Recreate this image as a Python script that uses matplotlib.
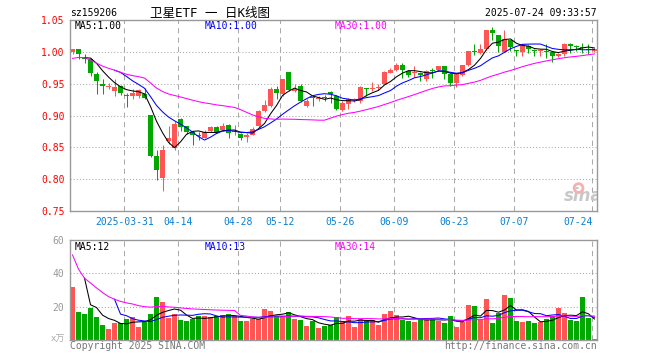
import matplotlib
matplotlib.use('Agg')
import matplotlib.pyplot as plt
import numpy as np
import pandas as pd

plt.rcParams['font.family'] = ['DejaVu Sans Mono', 'Noto Sans CJK SC']

# ---------------- data ----------------
open_ = [1.000, 1.004, 0.991, 0.989, 0.965, 0.950, 0.945, 0.939, 0.946, 0.932,
         0.931, 0.931, 0.933, 0.900, 0.836, 0.802, 0.860, 0.849, 0.895, 0.883,
         0.874, 0.870, 0.865, 0.875, 0.882, 0.877, 0.885, 0.874, 0.871, 0.867,
         0.870, 0.883, 0.907, 0.915, 0.942, 0.933, 0.968, 0.939, 0.947, 0.915,
         0.928, 0.926, 0.929, 0.937, 0.931, 0.908, 0.918, 0.924, 0.923, 0.943,
         0.941, 0.943, 0.950, 0.967, 0.971, 0.980, 0.970, 0.966, 0.966, 0.958,
         0.972, 0.971, 0.977, 0.965, 0.951, 0.963, 0.979, 1.001, 0.998, 1.004,
         1.035, 1.027, 1.000, 1.018, 1.002, 1.000, 1.009, 1.002, 1.002, 1.002,
         0.999, 0.993, 0.996, 1.013, 1.008, 1.007, 1.004, 1.001]
high = [1.005, 1.004, 0.996, 0.990, 0.968, 0.958, 0.951, 0.957, 0.948, 0.936,
        0.941, 0.941, 0.943, 0.901, 0.846, 0.853, 0.883, 0.892, 0.896, 0.884,
        0.876, 0.874, 0.878, 0.883, 0.883, 0.888, 0.887, 0.885, 0.873, 0.872,
        0.882, 0.909, 0.925, 0.944, 0.946, 0.958, 0.968, 0.949, 0.949, 0.926,
        0.932, 0.931, 0.932, 0.939, 0.932, 0.923, 0.928, 0.927, 0.946, 0.943,
        0.953, 0.950, 0.970, 0.975, 0.982, 0.982, 0.971, 0.978, 0.968, 0.971,
        0.975, 0.978, 0.978, 0.967, 0.967, 0.980, 1.002, 1.013, 1.012, 1.035,
        1.039, 1.027, 1.035, 1.019, 1.003, 1.013, 1.011, 1.005, 1.005, 1.012,
        1.001, 0.998, 1.014, 1.014, 1.010, 1.014, 1.013, 1.005]
low = [0.996, 0.988, 0.982, 0.962, 0.933, 0.934, 0.941, 0.930, 0.932, 0.914,
       0.926, 0.928, 0.926, 0.835, 0.799, 0.782, 0.856, 0.846, 0.876, 0.871,
       0.853, 0.861, 0.864, 0.874, 0.872, 0.875, 0.864, 0.869, 0.862, 0.858,
       0.869, 0.881, 0.906, 0.914, 0.926, 0.931, 0.938, 0.937, 0.921, 0.914,
       0.915, 0.923, 0.923, 0.920, 0.909, 0.907, 0.910, 0.921, 0.920, 0.931,
       0.939, 0.940, 0.949, 0.966, 0.970, 0.959, 0.961, 0.961, 0.954, 0.954,
       0.959, 0.970, 0.958, 0.947, 0.944, 0.962, 0.978, 0.995, 0.997, 1.003,
       1.018, 0.999, 0.999, 1.001, 0.993, 0.993, 0.998, 0.993, 0.994, 0.991,
       0.984, 0.992, 0.994, 0.998, 1.001, 0.998, 0.996, 1.000]
close = [1.004, 0.996, 0.989, 0.967, 0.954, 0.946, 0.946, 0.945, 0.935, 0.931,
         0.936, 0.940, 0.928, 0.836, 0.815, 0.846, 0.864, 0.886, 0.882, 0.874,
         0.869, 0.868, 0.874, 0.882, 0.873, 0.883, 0.873, 0.875, 0.865, 0.870,
         0.879, 0.907, 0.916, 0.941, 0.935, 0.958, 0.940, 0.941, 0.923, 0.923,
         0.927, 0.927, 0.927, 0.933, 0.910, 0.920, 0.926, 0.925, 0.944, 0.942,
         0.942, 0.944, 0.968, 0.971, 0.979, 0.971, 0.963, 0.968, 0.964, 0.970,
         0.970, 0.977, 0.965, 0.951, 0.965, 0.979, 1.001, 0.999, 1.004, 1.035,
         1.029, 1.009, 1.020, 1.008, 1.001, 1.012, 1.004, 1.001, 1.003, 1.000,
         0.994, 0.996, 1.013, 1.009, 1.007, 1.006, 1.003, 1.005]
volume = [31.8, 16.8, 15.6, 19.4, 13.8, 9.0, 6.6, 10.2, 10.0, 12.6,
          13.8, 7.8, 11.0, 15.6, 25.8, 22.8, 13.2, 15.6, 12.0, 11.4,
          12.6, 14.4, 14.4, 13.8, 14.4, 15.0, 15.6, 14.4, 11.4, 11.4,
          12.6, 12.6, 18.6, 17.4, 14.4, 14.4, 16.8, 12.6, 12.0, 8.4,
          11.4, 7.2, 8.4, 9.0, 13.8, 11.4, 14.4, 7.8, 12.6, 12.0,
          12.0, 9.0, 15.6, 17.4, 15.0, 12.0, 11.4, 10.8, 12.6, 13.2,
          12.6, 11.4, 10.2, 14.4, 7.8, 10.8, 21.0, 20.4, 12.0, 24.6,
          10.2, 16.2, 27.0, 25.2, 11.4, 10.8, 11.4, 10.2, 10.8, 12.6,
          14.4, 19.2, 16.2, 12.0, 11.4, 25.8, 13.2, 0.6]
# two trading days before the window (used only to warm up the moving averages)
prior_close = [0.970, 0.995]
prior_volume = [99.4, 22.0]

tick_labels = ['2025-03-31', '04-14', '04-28', '05-12', '05-26',
               '06-09', '06-23', '07-07', '07-24']
tick_index = [9, 18, 28, 35, 45, 54, 64, 74, 87]

price_ma_labels = ['MA5:1.00', 'MA10:1.00', 'MA30:1.00']
vol_ma_labels = ['MA5:12', 'MA10:13', 'MA30:14']
title = '卫星ETF 一 日K线图'
code = 'sz159206'
stamp = '2025-07-24 09:33:57'

# ---------------- styling ----------------
RED = '#FF5555'
GREEN = '#00A800'
MA_COLORS = ['#000000', '#0000FF', '#FF00FF']
FRAME = '#999999'
GRID = '#AAAAAA'
LW = 0.75

W, H = 660, 360
fig = plt.figure(figsize=(W / 100, H / 100), dpi=100)
fig.patch.set_facecolor('white')


def fx(px):
    return px / W


def fy(py):
    return 1 - py / H


ax = fig.add_axes([fx(70), fy(211), 527 / W, 191 / H])
axv = fig.add_axes([fx(70), fy(340), 527 / W, 100 / H])

o = np.array(open_)
h = np.array(high)
l = np.array(low)
c = np.array(close)
v = np.array(volume)
n = len(c)
x = np.arange(n)
cols = [RED if cc >= oo else GREEN for oo, cc in zip(o, c)]

# moving averages
full_c = pd.Series(np.concatenate([prior_close, c]))
full_v = pd.Series(np.concatenate([prior_volume, v]))
k = len(prior_close)
pma = [full_c.rolling(5).mean().values[k:],
       full_c.rolling(10).mean().values[k:],
       full_c.rolling(30, min_periods=1).mean().values[k:]]
vma = [full_v.rolling(5).mean().values[k:],
       full_v.rolling(10).mean().values[k:],
       full_v.rolling(30, min_periods=1).mean().values[k:]]

# candles
ax.vlines(x, l, h, colors=cols, linewidth=LW, zorder=2)
body = np.maximum(np.abs(c - o), 0.0016)
ax.bar(x, body, bottom=np.minimum(o, c), width=0.82, color=cols,
       linewidth=0, zorder=2)
for ma, col in zip(pma, MA_COLORS):
    ax.plot(x, ma, color=col, linewidth=LW, zorder=3)

# volume
axv.bar(x, v, width=0.82, color=cols, linewidth=0, zorder=2)
for ma, col in zip(vma, MA_COLORS):
    axv.plot(x, ma, color=col, linewidth=LW, zorder=3)

grid_pos = [t - 0.35 for t in tick_index]
for a in (ax, axv):
    a.set_xlim(-0.42, n - 1 + 0.42)
    for s in a.spines.values():
        s.set_color(FRAME)
        s.set_linewidth(1)
    a.set_axisbelow(True)
    a.set_facecolor('white')
    for gp in grid_pos:
        a.axvline(gp, color=GRID, linewidth=LW, linestyle=(0, (5, 4)),
                  zorder=0)

ax.set_ylim(0.75, 1.05)
axv.set_ylim(0, 60)
for yv in [0.80, 0.85, 0.90, 0.95, 1.00]:
    ax.axhline(yv, color=GRID, linewidth=LW, linestyle=(0, (1, 2)), zorder=0)
for yv in [20, 40]:
    axv.axhline(yv, color=GRID, linewidth=LW, linestyle=(0, (1, 2)), zorder=0)

yt = [0.75, 0.80, 0.85, 0.90, 0.95, 1.00, 1.05]
ax.set_yticks(yt, labels=['%.2f' % t for t in yt])
ax.tick_params(axis='y', length=0, pad=4, labelcolor='#FF0000', labelsize=7)
ax.set_xticks(grid_pos, labels=tick_labels)
ax.tick_params(axis='x', length=0, pad=4, labelcolor='#0A7FD0', labelsize=7)
ax.get_xticklabels()[-1].set_horizontalalignment('right')

axv.set_yticks([20, 40, 60], labels=['20', '40', '60'])
axv.tick_params(axis='y', length=0, pad=4, labelcolor='#999999', labelsize=7)
axv.set_xticks([])

# header texts
fig.text(fx(70), fy(13), code, ha='left', va='center', fontsize=7)
fig.text(fx(210), fy(13), title, ha='center', va='center', fontsize=9)
fig.text(fx(597), fy(13), stamp, ha='right', va='center', fontsize=7)

for lab, col, px in zip(price_ma_labels, MA_COLORS, [75, 205, 335]):
    fig.text(fx(px), fy(26), lab, color=col, ha='left', va='center', fontsize=7)
for lab, col, px in zip(vol_ma_labels, MA_COLORS, [75, 205, 335]):
    fig.text(fx(px), fy(246.5), lab, color=col, ha='left', va='center', fontsize=7)

fig.text(fx(65), fy(339), 'x万', ha='right', va='center', fontsize=6.5,
         color='#AAAAAA')
fig.text(fx(70), fy(346), 'Copyright 2025 SINA.COM', ha='left', va='center',
         fontsize=7, color='#777777')
fig.text(fx(597), fy(346), 'http://finance.sina.com.cn', ha='right',
         va='center', fontsize=7, color='#777777')

# sina watermark
ax.text(1.01, 0.03, 'sina', transform=ax.transAxes, ha='right', va='bottom',
        fontsize=12, fontstyle='italic', fontweight='bold', color='#C8C8C8',
        family='DejaVu Sans', clip_on=True, zorder=1)
ax.scatter([0.965], [0.12], transform=ax.transAxes, s=40, facecolors='none',
           edgecolors='#F5B0B0', linewidths=2, zorder=1, clip_on=False)

fig.savefig('out.png', dpi=100, facecolor='white')
